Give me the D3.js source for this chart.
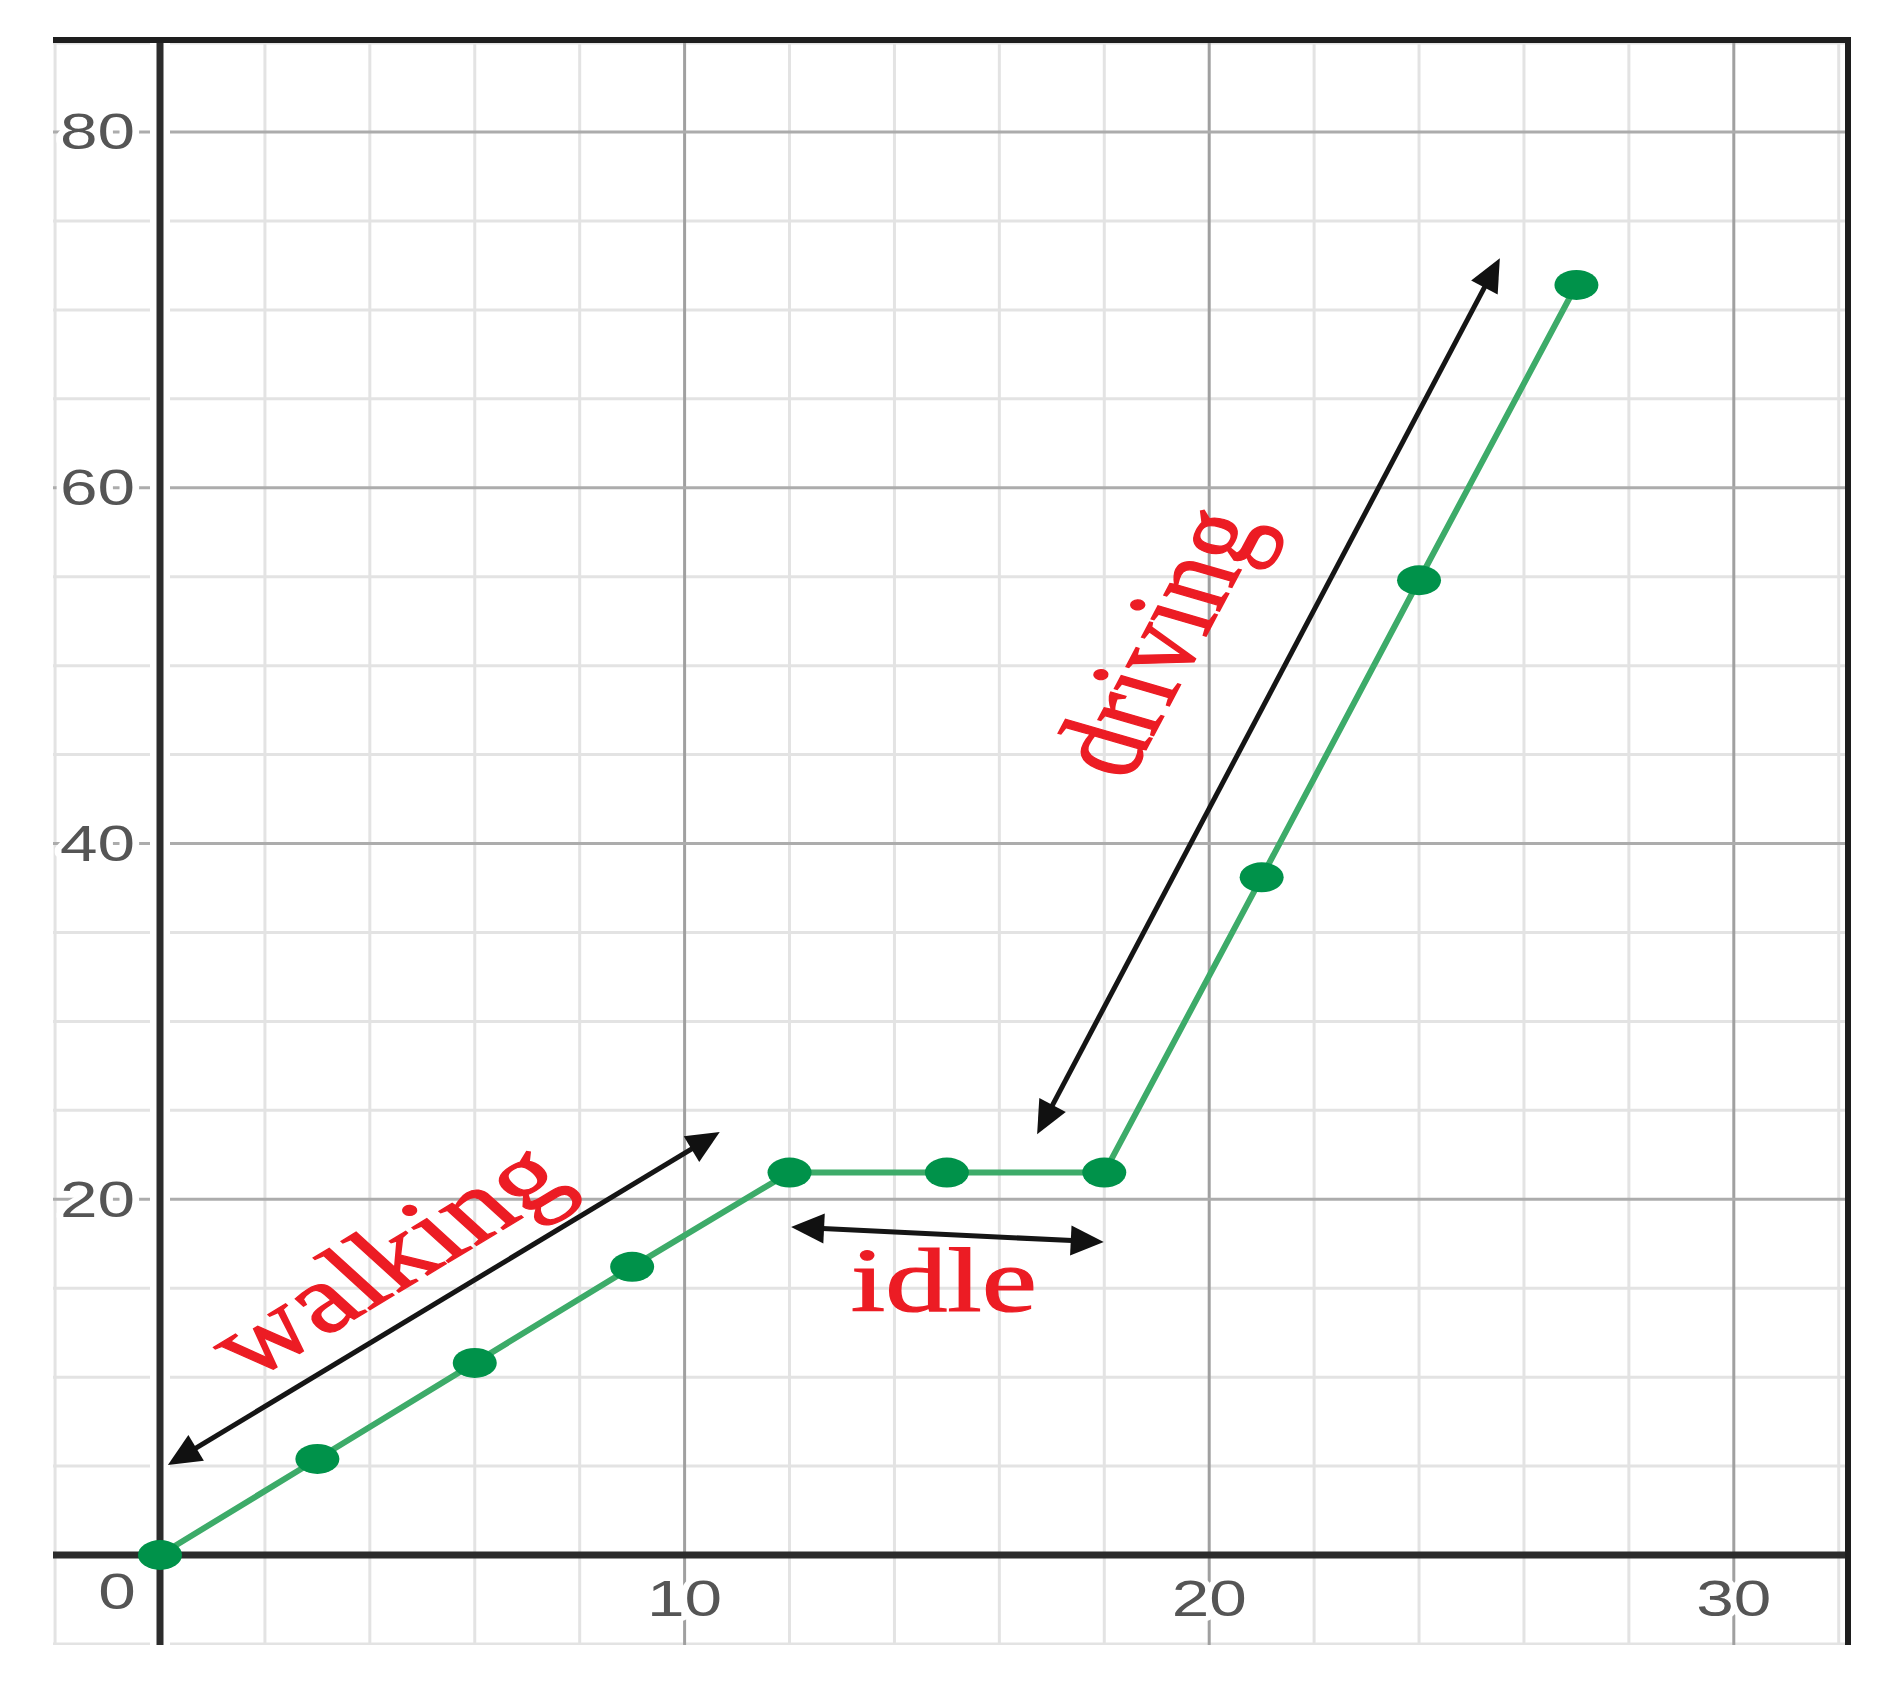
<!DOCTYPE html>
<html><head><meta charset="utf-8">
<script src="https://cdn.jsdelivr.net/npm/d3@7"></script>
<style>html,body{margin:0;padding:0;background:#fff}svg{display:block}</style>
</head><body>
<script>
// ---- data ----
const minutes  = [0, 3, 6, 9, 12, 15, 18, 21, 24, 27];
const distance = [0, 5.4, 10.8, 16.2, 21.5, 21.5, 21.5, 38.1, 54.8, 71.4];
const xTickValues = [10, 20, 30];
const xTickLabels = ["10", "20", "30"];
const yTickValues = [20, 40, 60, 80];
const yTickLabels = ["20", "40", "60", "80"];
const originLabel = "0";
const segmentNames = ["walking", "idle", "driving"];
const labelX = [4.35, 14.94, 19.08];
const labelY = [16.5, 13.7, 51.3];
const labelFollowsArrow = [true, false, true];
const arrowFromX = [0.15, 12.03, 16.72];
const arrowFromY = [5.06, 18.44, 23.66];
const arrowToX   = [10.67, 17.99, 25.54];
const arrowToY   = [23.78, 17.59, 72.9];

// ---- layout ----
const W = 1887, H = 1696;
const plot = {left: 53, right: 1848, top: 40, bottom: 1645};
const S = 1.35; // horizontal stretch of the reference picture

const x = d3.scaleLinear().domain([0, 30]).range([160, 1733.8]);
const y = d3.scaleLinear().domain([0, 80]).range([1555, 132]);

const svg = d3.select("body").append("svg").attr("width", W).attr("height", H);
svg.append("rect").attr("width", W).attr("height", H).attr("fill", "#fff");

svg.append("clipPath").attr("id", "clip").append("rect")
  .attr("x", plot.left).attr("y", plot.top)
  .attr("width", plot.right - plot.left).attr("height", plot.bottom - plot.top);

const grid = svg.append("g").attr("clip-path", "url(#clip)");
const xMin = x.invert(plot.left), xMax = x.invert(plot.right);
const yMin = y.invert(plot.bottom), yMax = y.invert(plot.top);
const xMinor = d3.range(Math.ceil(xMin / 2) * 2, xMax + 0.001, 2).filter(v => v % 10 !== 0);
const xMajor = d3.range(Math.ceil(xMin / 10) * 10, xMax + 0.001, 10).filter(v => v !== 0);
const yMinor = d3.range(Math.ceil(yMin / 5) * 5, yMax + 0.001, 5).filter(v => v % 20 !== 0);
const yMajor = d3.range(Math.ceil(yMin / 20) * 20, yMax + 0.001, 20).filter(v => v !== 0);

grid.selectAll(".xmin").data(xMinor).join("line")
  .attr("x1", d => x(d)).attr("x2", d => x(d)).attr("y1", plot.top).attr("y2", plot.bottom)
  .attr("stroke", "#e3e3e3").attr("stroke-width", 3);
grid.selectAll(".ymin").data(yMinor).join("line")
  .attr("y1", d => y(d)).attr("y2", d => y(d)).attr("x1", plot.left).attr("x2", plot.right)
  .attr("stroke", "#e3e3e3").attr("stroke-width", 3);
grid.selectAll(".xmaj").data(xMajor).join("line")
  .attr("x1", d => x(d)).attr("x2", d => x(d)).attr("y1", plot.top).attr("y2", plot.bottom)
  .attr("stroke", "#a0a0a0").attr("stroke-width", 3);
grid.selectAll(".ymaj").data(yMajor).join("line")
  .attr("y1", d => y(d)).attr("y2", d => y(d)).attr("x1", plot.left).attr("x2", plot.right)
  .attr("stroke", "#acacac").attr("stroke-width", 3);

// tick labels with white halo
const labelStyle = sel => sel
  .attr("font-family", "'Liberation Sans', Arial, sans-serif")
  .attr("font-size", 50).attr("fill", "#555")
  .attr("stroke", "#fff").attr("stroke-width", 10).attr("paint-order", "stroke")
  .attr("stroke-linejoin", "round");

// axes
grid.append("line").attr("x1", x(0)).attr("x2", x(0)).attr("y1", plot.top).attr("y2", plot.bottom)
  .attr("stroke", "#fff").attr("stroke-width", 20);
grid.append("line").attr("x1", plot.left).attr("x2", plot.right).attr("y1", y(0)).attr("y2", y(0))
  .attr("stroke", "#2c2c2c").attr("stroke-width", 7);
grid.append("line").attr("x1", x(0)).attr("x2", x(0)).attr("y1", plot.top).attr("y2", plot.bottom)
  .attr("stroke", "#2c2c2c").attr("stroke-width", 7);

svg.append("g").selectAll("text").data(yTickValues).join("text")
  .attr("transform", d => `translate(135,${y(d)}) scale(${S},1)`)
  .attr("text-anchor", "end").attr("dominant-baseline", "central")
  .text((d, i) => yTickLabels[i]).call(labelStyle);
svg.append("g").selectAll("text").data(xTickValues).join("text")
  .attr("transform", d => `translate(${x(d)},${y(0) + 44}) scale(${S},1)`)
  .attr("text-anchor", "middle").attr("dominant-baseline", "central")
  .text((d, i) => xTickLabels[i]).call(labelStyle);
svg.append("text")
  .attr("transform", `translate(${x(0) - 43},${y(0) + 37}) scale(${S},1)`)
  .attr("text-anchor", "middle").attr("dominant-baseline", "central")
  .text(originLabel).call(labelStyle);

// frame (top and right)
svg.append("path")
  .attr("d", `M${plot.left},${plot.top} H${plot.right} V${plot.bottom}`)
  .attr("fill", "none").attr("stroke", "#1e1e1e").attr("stroke-width", 6);

// arrows
const headLen = 33, headHalf = 15;
const ag = svg.append("g");
segmentNames.forEach((name, i) => {
  const x1 = x(arrowFromX[i]), y1 = y(arrowFromY[i]);
  const x2 = x(arrowToX[i]), y2 = y(arrowToY[i]);
  const ang = Math.atan2(y2 - y1, x2 - x1);
  const ux = Math.cos(ang), uy = Math.sin(ang);
  ag.append("line")
    .attr("x1", x1 + ux * headLen * 0.8).attr("y1", y1 + uy * headLen * 0.8)
    .attr("x2", x2 - ux * headLen * 0.8).attr("y2", y2 - uy * headLen * 0.8)
    .attr("stroke", "#151515").attr("stroke-width", 5);
  const head = (tx, ty, dx, dy) => {
    const bx = tx - dx * headLen, by = ty - dy * headLen;
    return `M${tx},${ty} L${bx - dy * headHalf},${by + dx * headHalf} L${bx + dy * headHalf},${by - dx * headHalf} Z`;
  };
  ag.append("path").attr("d", head(x2, y2, ux, uy)).attr("fill", "#111");
  ag.append("path").attr("d", head(x1, y1, -ux, -uy)).attr("fill", "#111");

  // label
  let rot = 0;
  if (labelFollowsArrow[i]) rot = Math.atan2(y2 - y1, (x2 - x1) / S) * 180 / Math.PI;
  const t = ag.append("text")
    .attr("transform", `translate(${x(labelX[i])},${y(labelY[i])}) scale(${S},1) rotate(${rot})`)
    .attr("text-anchor", "middle")
    .attr("font-family", "'Liberation Serif', 'Times New Roman', serif")
    .attr("font-size", labelFollowsArrow[i] ? 96 : 92)
    .attr("fill", "#ec1c24").attr("stroke", "#ec1c24").attr("stroke-width", 1.2)
    .text(name);
  if (labelFollowsArrow[i]) t.attr("dy", "0.3em");
});

// series
const pts = minutes.map((m, i) => [m, distance[i]]);
svg.append("path").datum(pts)
  .attr("d", d3.line().x(d => x(d[0])).y(d => y(d[1])))
  .attr("fill", "none").attr("stroke", "#3dab69").attr("stroke-width", 6)
  .attr("stroke-linejoin", "round");
svg.append("g").selectAll("ellipse").data(pts).join("ellipse")
  .attr("cx", d => x(d[0])).attr("cy", d => y(d[1]))
  .attr("rx", 22).attr("ry", 15).attr("fill", "#00924a");
</script>
</body></html>
